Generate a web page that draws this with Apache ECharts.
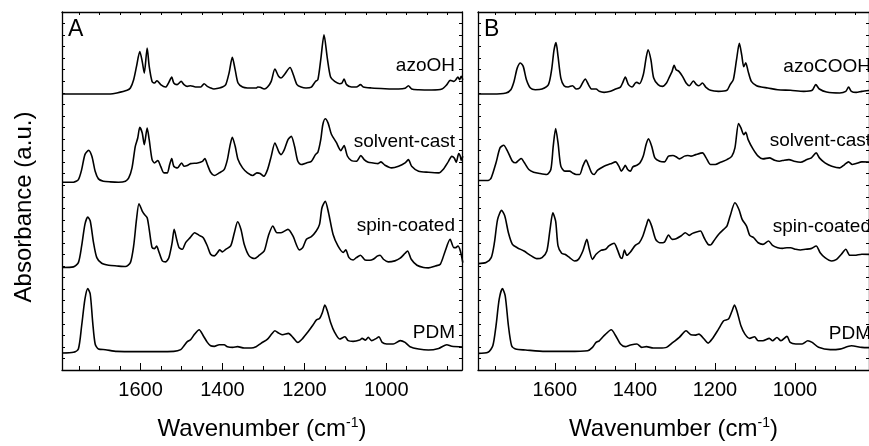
<!DOCTYPE html>
<html>
<head>
<meta charset="utf-8">
<script src="https://cdn.jsdelivr.net/npm/echarts@6/dist/echarts.min.js"></script>
<style>html,body{margin:0;padding:0;background:#fff}#c{width:869px;height:446px}</style>
</head>
<body>
<div id="c"></div>
<script>
// ---------- DATA (wavenumber cm-1, absorbance a.u.) ----------
const panelLetters = ['A', 'B'];
const seriesNamesA = ['azoOH', 'solvent-cast', 'spin-coated', 'PDM'];
const seriesNamesB = ['azoCOOH', 'solvent-cast', 'spin-coated', 'PDM'];
const offsetsA = [23.9, 16.26, 8.87, 1.47];
const offsetsB = [23.9, 16.41, 9.21, 1.44];
const xMin = 815, xMax = 1792;
const majorTicks = [1000, 1200, 1400, 1600];
const minorTicks = [850, 900, 950, 1050, 1100, 1150, 1250, 1300, 1350, 1450, 1500, 1550, 1650, 1700, 1750];

const A_azoOH = [[1791,0],[1674,0],[1658,0.09],[1633,0.32],[1625,0.52],[1617,1.24],[1610,2.39],[1602,3.68],[1596,2.81],[1591,1.81],[1584,3.97],[1579,2.39],[1572,1.09],[1566,0.95],[1560,1.15],[1551,0.81],[1539,0.60],[1531,1.01],[1524,1.47],[1519,0.95],[1511,0.81],[1501,1.09],[1494,0.81],[1486,0.66],[1478,0.72],[1466,0.60],[1453,0.60],[1445,0.89],[1437,0.66],[1429,0.52],[1421,0.43],[1408,0.52],[1400,0.60],[1392,0.81],[1384,1.81],[1376,3.17],[1369,2.09],[1362,0.95],[1351,0.60],[1339,0.52],[1318,0.52],[1314,0.60],[1308,0.58],[1298,0.43],[1290,0.60],[1281,1.09],[1272,2.16],[1263,1.53],[1257,1.38],[1249,1.67],[1235,2.30],[1227,1.67],[1218,0.81],[1208,0.60],[1196,0.52],[1183,0.60],[1173,1.09],[1167,1.24],[1160,2.97],[1152,5.12],[1144,3.11],[1136,1.47],[1126,1.09],[1114,0.89],[1108,0.95],[1103,1.30],[1097,0.81],[1085,0.60],[1073,0.60],[1063,0.81],[1056,0.60],[1036,0.52],[1003,0.46],[970,0.43],[954,0.49],[946,0.72],[938,0.43],[921,0.37],[889,0.35],[864,0.43],[852,0.81],[844,1.18],[835,1.09],[830,1.24],[825,1.47],[821,1.24],[817,1.53],[813,1.24]];

const A_solvent = [[1791,0],[1764,0],[1752,0.23],[1744,1.09],[1736,2.39],[1727,2.76],[1719,2.24],[1711,0.95],[1703,0.29],[1691,0.09],[1674,0.03],[1654,0],[1637,0.09],[1629,0.37],[1621,1.24],[1613,3.11],[1607,3.83],[1602,4.75],[1596,4.26],[1591,3.25],[1584,4.69],[1579,3.68],[1572,1.96],[1566,1.67],[1558,1.87],[1551,1.38],[1543,0.81],[1535,0.81],[1529,1.53],[1524,2.05],[1519,1.38],[1510,1.24],[1500,1.67],[1494,1.38],[1486,1.44],[1478,1.61],[1461,1.67],[1449,1.81],[1443,2.05],[1437,1.53],[1429,0.86],[1420,0.58],[1408,0.81],[1396,1.09],[1388,1.96],[1382,3.11],[1376,3.89],[1369,3.11],[1362,1.96],[1351,1.24],[1339,0.81],[1326,0.58],[1316,0.81],[1308,0.75],[1299,0.52],[1290,1.09],[1281,2.24],[1272,3.40],[1263,2.68],[1257,2.39],[1249,2.82],[1240,3.68],[1232,3.97],[1224,3.11],[1216,1.81],[1208,1.53],[1195,1.67],[1183,1.81],[1173,2.39],[1167,2.59],[1160,3.68],[1155,4.98],[1149,5.50],[1142,5.12],[1134,4.15],[1122,3.45],[1111,2.74],[1103,3.17],[1095,2.27],[1085,1.87],[1073,1.81],[1062,2.30],[1054,1.96],[1044,1.73],[1032,1.67],[1020,1.61],[1013,1.76],[1003,1.47],[987,1.24],[970,1.38],[954,1.67],[946,1.96],[938,1.38],[921,0.95],[897,0.86],[872,0.81],[860,1.15],[848,1.81],[840,2.24],[834,2.09],[829,1.73],[823,2.48],[819,2.24],[817,1.90],[813,2.24]];

const A_spin = [[1791,0],[1764,0.06],[1752,0.43],[1744,1.87],[1736,3.74],[1729,4.38],[1723,4.03],[1715,2.16],[1707,0.86],[1695,0.37],[1678,0.20],[1658,0.14],[1637,0.09],[1625,0.43],[1617,1.87],[1610,4.17],[1604,5.53],[1596,4.89],[1591,4.61],[1584,4.32],[1579,3.31],[1572,1.73],[1566,1.64],[1561,1.87],[1556,1.44],[1547,0.58],[1539,0.49],[1531,0.86],[1523,2.16],[1518,3.31],[1512,2.45],[1506,1.73],[1498,1.58],[1490,2.16],[1479,2.59],[1468,3.02],[1457,2.79],[1447,2.59],[1437,1.87],[1429,1.15],[1420,1.01],[1412,1.30],[1407,1.53],[1400,1.36],[1392,1.58],[1380,1.87],[1371,3.02],[1363,3.97],[1355,3.31],[1347,2.02],[1335,1.01],[1322,0.78],[1310,1.07],[1298,1.44],[1288,2.74],[1277,3.60],[1267,3.02],[1257,3.02],[1240,3.31],[1228,2.74],[1212,1.53],[1204,1.73],[1195,2.45],[1183,2.68],[1171,3.17],[1163,3.74],[1157,5.18],[1149,5.73],[1141,4.75],[1130,2.88],[1118,1.87],[1105,1.30],[1099,1.53],[1091,0.86],[1081,0.66],[1073,0.86],[1063,1.07],[1052,0.66],[1040,0.63],[1032,0.72],[1021,1.01],[1015,1.07],[1007,0.72],[995,0.49],[979,0.58],[966,0.81],[954,1.24],[948,1.44],[939,0.72],[925,0.20],[909,0],[897,-0.03],[880,0.14],[868,0.29],[856,1.44],[844,2.45],[835,1.73],[830,1.73],[825,1.87],[819,1.44],[813,0.43]];

const A_PDM = [[1791,0],[1764,0.06],[1752,0.35],[1744,2.36],[1736,4.66],[1729,5.58],[1723,5.09],[1717,2.65],[1711,0.78],[1703,0.35],[1686,0.29],[1658,0.14],[1609,0.12],[1560,0.12],[1519,0.14],[1502,0.29],[1494,0.63],[1486,0.98],[1478,1.15],[1468,1.64],[1457,2.02],[1447,1.50],[1437,0.92],[1429,0.63],[1420,0.58],[1408,0.72],[1396,0.72],[1388,0.55],[1375,0.49],[1363,0.55],[1347,0.43],[1330,0.43],[1318,0.55],[1306,0.84],[1290,1.21],[1280,1.64],[1272,1.93],[1263,1.73],[1253,1.58],[1239,1.70],[1228,1.36],[1216,0.92],[1204,1.27],[1191,1.84],[1179,2.42],[1171,2.85],[1163,2.99],[1156,3.51],[1150,4.15],[1144,3.66],[1136,2.65],[1126,1.79],[1114,1.21],[1101,1.41],[1093,1.07],[1081,1.01],[1065,1.12],[1059,1.27],[1051,1.12],[1044,1.36],[1036,1.07],[1024,1.27],[1018,1.41],[1010,0.92],[999,0.78],[983,0.78],[966,1.07],[954,0.92],[942,0.55],[921,0.35],[897,0.26],[872,0.40],[852,0.72],[840,0.58],[813,0.52]];

const B_azoCOOH = [[1792,0],[1755,0],[1722,0.09],[1710,0.37],[1702,1.09],[1694,2.24],[1686,2.68],[1679,2.39],[1671,1.24],[1661,0.52],[1649,0.37],[1632,0.43],[1616,0.81],[1608,2.11],[1602,3.83],[1597,4.46],[1592,3.25],[1585,1.38],[1577,0.72],[1567,0.60],[1556,0.72],[1547,0.43],[1538,0.52],[1530,1.01],[1524,1.30],[1516,0.81],[1508,0.43],[1497,0.43],[1489,0.23],[1477,0.14],[1461,0.23],[1448,0.43],[1436,0.60],[1430,1.01],[1424,1.47],[1416,0.81],[1407,0.60],[1399,0.95],[1395,1.01],[1389,0.89],[1379,1.67],[1372,3.11],[1367,3.83],[1360,2.97],[1353,1.38],[1342,0.81],[1331,0.66],[1321,0.95],[1313,1.53],[1307,1.96],[1302,2.48],[1297,2.11],[1290,1.96],[1281,1.53],[1272,0.95],[1264,0.72],[1254,1.12],[1246,0.81],[1240,0.72],[1231,0.95],[1223,0.60],[1211,0.32],[1191,0.23],[1170,0.32],[1162,0.81],[1154,1.24],[1146,2.97],[1139,4.38],[1133,3.37],[1128,2.36],[1123,2.71],[1117,1.96],[1109,1.09],[1096,0.72],[1084,0.60],[1068,0.52],[1043,0.37],[1011,0.32],[978,0.23],[957,0.32],[948,0.81],[939,0.43],[921,0.17],[888,0.09],[873,0.23],[866,0.60],[859,0.23],[847,0.14],[833,0.23],[815,0.30]];

const B_solvent = [[1792,0],[1767,0],[1759,0.23],[1747,1.53],[1737,2.82],[1728,3.05],[1718,2.53],[1706,1.67],[1698,1.53],[1690,1.76],[1684,1.90],[1676,1.53],[1665,0.95],[1653,0.72],[1637,0.60],[1620,0.52],[1610,0.95],[1604,2.97],[1598,4.49],[1592,3.25],[1585,1.24],[1575,0.81],[1563,0.81],[1556,0.66],[1547,0.52],[1538,0.52],[1530,1.24],[1522,1.76],[1515,1.24],[1508,0.66],[1502,0.52],[1493,0.89],[1477,1.24],[1461,1.44],[1448,1.61],[1440,1.24],[1434,0.81],[1428,1.09],[1424,1.32],[1418,0.95],[1411,0.81],[1405,1.18],[1395,1.32],[1387,1.53],[1379,2.11],[1372,3.11],[1366,3.60],[1358,2.97],[1350,1.96],[1338,1.67],[1326,1.61],[1316,2.11],[1305,2.16],[1297,2.05],[1289,1.87],[1276,2.11],[1268,2.16],[1260,2.11],[1248,2.24],[1231,2.39],[1222,1.96],[1211,1.38],[1199,1.38],[1186,1.58],[1170,1.81],[1158,2.09],[1150,2.82],[1141,4.92],[1135,4.55],[1128,3.97],[1123,4.17],[1117,3.54],[1105,2.74],[1092,2.11],[1080,1.87],[1064,1.96],[1051,1.76],[1039,1.67],[1027,1.76],[1015,1.81],[1002,1.67],[986,1.58],[970,1.81],[959,1.96],[947,2.39],[939,1.96],[925,1.53],[908,1.24],[888,1.09],[876,1.38],[866,1.61],[857,1.38],[847,1.47],[833,1.61],[815,1.60]];

const B_spin = [[1792,0],[1772,0.09],[1759,0.52],[1751,1.81],[1743,3.83],[1733,4.61],[1725,4.12],[1716,2.68],[1706,1.67],[1694,1.38],[1677,1.09],[1661,0.72],[1645,0.43],[1632,0.52],[1620,1.09],[1612,2.97],[1605,4.40],[1598,3.68],[1592,1.53],[1583,0.89],[1575,0.81],[1563,0.52],[1551,0.23],[1541,0.37],[1530,1.09],[1520,2.10],[1514,1.24],[1506,0.37],[1497,0.81],[1485,1.15],[1473,1.24],[1465,1.53],[1452,1.76],[1444,1.24],[1436,0.52],[1432,0.46],[1426,1.18],[1420,0.72],[1411,1.01],[1399,1.58],[1389,1.81],[1380,2.39],[1372,3.25],[1366,3.83],[1358,3.25],[1348,2.10],[1338,1.81],[1326,1.87],[1316,2.48],[1307,2.10],[1297,2.16],[1285,2.39],[1274,2.68],[1264,2.45],[1256,2.62],[1246,2.74],[1236,2.82],[1227,2.24],[1217,1.67],[1211,1.61],[1203,1.96],[1191,2.53],[1178,2.97],[1170,3.25],[1162,4.12],[1150,5.27],[1140,4.69],[1132,3.83],[1121,3.25],[1113,2.45],[1103,2.24],[1092,1.81],[1080,1.67],[1066,1.96],[1056,1.58],[1043,1.38],[1031,1.32],[1020,1.38],[1011,1.38],[998,1.24],[986,1.18],[974,1.24],[960,1.30],[947,1.53],[937,0.95],[925,0.52],[908,0.23],[896,0.37],[884,0.81],[873,1.24],[863,0.72],[851,0.72],[833,0.81],[815,0.80]];

const B_PDM = [[1792,0],[1767,0.09],[1755,0.66],[1747,2.39],[1739,4.69],[1731,5.61],[1724,4.98],[1716,2.39],[1708,0.66],[1698,0.37],[1673,0.29],[1624,0.17],[1567,0.17],[1518,0.23],[1506,0.52],[1497,0.95],[1489,1.09],[1477,1.53],[1459,2.04],[1448,1.53],[1436,0.81],[1424,0.58],[1411,0.72],[1395,0.81],[1383,0.52],[1371,0.58],[1354,0.46],[1338,0.46],[1321,0.52],[1305,0.95],[1289,1.38],[1272,1.96],[1260,1.61],[1248,1.58],[1240,1.67],[1227,1.24],[1217,0.89],[1207,1.24],[1191,2.10],[1178,2.82],[1166,2.97],[1158,3.60],[1151,4.18],[1144,3.54],[1135,2.39],[1125,1.67],[1113,1.30],[1101,1.44],[1092,1.09],[1080,1.09],[1064,1.30],[1056,1.09],[1045,1.38],[1035,1.09],[1020,1.47],[1012,0.95],[998,0.81],[982,0.81],[968,1.09],[957,0.95],[941,0.52],[912,0.32],[888,0.37],[859,0.66],[833,0.52],[815,0.50]];

const spectraA = [A_azoOH, A_solvent, A_spin, A_PDM];
const spectraB = [B_azoCOOH, B_solvent, B_spin, B_PDM];

// ---------- LAYOUT ----------
const FONT = 'Liberation Sans, Arial, sans-serif';
const grids = [
  {left: 62, top: 12, width: 400, height: 359},
  {left: 478, top: 12, width: 400, height: 359}
];
const Y_UNITS = 31;     // data scale
const Y_TICKS = 31;     // number of tick intervals on the frame

const xAxis = [], yAxis = [], series = [], graphic = [];
grids.forEach((g, gi) => {
  const base = {gridIndex: gi, type: 'value', min: xMin, max: xMax, inverse: true, splitLine: {show: false}};
  xAxis.push(Object.assign({}, base, {
    position: 'bottom',
    axisLine: {show: true, onZero: false, lineStyle: {color: '#000', width: 1.3}},
    axisTick: {show: true, inside: true, length: 7, customValues: majorTicks, lineStyle: {color: '#000', width: 1}},
    axisLabel: {show: true, customValues: majorTicks, fontSize: 20, color: '#000', fontFamily: FONT, margin: 10,
      formatter: v => String(v)},
    name: 'Wavenumber (cm{sup|-1})',
    nameLocation: 'middle', nameGap: 46,
    nameTextStyle: {fontSize: 24, color: '#000', fontFamily: FONT,
      rich: {sup: {fontSize: 14, color: '#000', fontFamily: FONT, verticalAlign: 'top', padding: [0, 0, 12, 0]}}}
  }));
  xAxis.push(Object.assign({}, base, {
    position: 'bottom',
    axisLine: {show: false, onZero: false},
    axisTick: {show: true, inside: true, length: 4, customValues: minorTicks, lineStyle: {color: '#000', width: 1}},
    axisLabel: {show: false}
  }));
  xAxis.push(Object.assign({}, base, {
    position: 'top',
    axisLine: {show: true, onZero: false, lineStyle: {color: '#000', width: 1.3}},
    axisTick: {show: true, inside: true, length: 3, customValues: minorTicks.concat(majorTicks), lineStyle: {color: '#000', width: 1}},
    axisLabel: {show: false}
  }));
  // data y axis (hidden)
  yAxis.push({gridIndex: gi, type: 'value', min: 0, max: Y_UNITS, show: false, splitLine: {show: false}});
  // frame y axes with ticks
  ['left', 'right'].forEach(pos => {
    yAxis.push({gridIndex: gi, type: 'value', min: 0, max: Y_TICKS, interval: 1, position: pos,
      axisLine: {show: true, onZero: false, lineStyle: {color: '#000', width: 1.3}},
      axisTick: {show: true, inside: true, length: 3, lineStyle: {color: '#000', width: 1}},
      axisLabel: {show: false}, splitLine: {show: false}});
  });
});

const panels = [
  {spectra: spectraA, offsets: offsetsA, names: seriesNamesA},
  {spectra: spectraB, offsets: offsetsB, names: seriesNamesB}
];
const labelY = [[66, 142, 226, 333], [67, 141, 227, 334]];
panels.forEach((p, pi) => {
  p.spectra.forEach((s, si) => {
    series.push({
      type: 'line', name: p.names[si] + pi,
      xAxisIndex: pi * 3, yAxisIndex: pi * 3,
      data: s.map(d => [d[0], d[1] + p.offsets[si]]),
      showSymbol: false, smooth: 0.25, clip: true,
      lineStyle: {color: '#000', width: 1.6}, silent: true, animation: false
    });
    graphic.push({type: 'text', x: grids[pi].left + grids[pi].width - 7, y: labelY[pi][si],
      style: {text: p.names[si], fontSize: 19, fontFamily: FONT, fill: '#000', align: 'right', verticalAlign: 'middle'}});
  });
  graphic.push({type: 'text', x: grids[pi].left + 6, y: 30,
    style: {text: panelLetters[pi], fontSize: 23, fontFamily: FONT, fill: '#000', align: 'left', verticalAlign: 'middle'}});
});
graphic.push({type: 'text', x: 24, y: 207, rotation: Math.PI / 2,
  style: {text: 'Absorbance (a.u.)', fontSize: 24, fontFamily: FONT, fill: '#000', align: 'center', verticalAlign: 'middle'}});

const chart = echarts.init(document.getElementById('c'), null, {renderer: 'canvas'});
chart.setOption({
  backgroundColor: '#fff',
  animation: false,
  grid: grids.map(g => Object.assign({containLabel: false}, g)),
  xAxis, yAxis, series, graphic
});
</script>
</body>
</html>
